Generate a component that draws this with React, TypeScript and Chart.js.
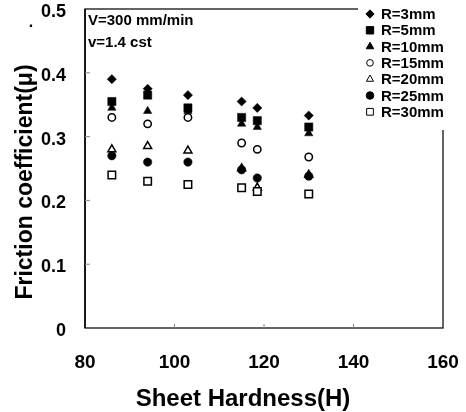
import React, { useEffect, useRef } from 'react';
import { Chart, registerables } from 'chart.js';
import { drawPoint } from 'chart.js/helpers';

Chart.register(...registerables);

// ---- data ----
const hardness = [86, 94, 103, 115, 118.5, 130];
const seriesLabels = ['R=3mm', 'R=5mm', 'R=10mm', 'R=15mm', 'R=20mm', 'R=25mm', 'R=30mm'];
const r3 = [0.39, 0.375, 0.365, 0.355, 0.345, 0.333];
const r5 = [0.355, 0.365, 0.345, 0.33, 0.325, 0.315];
const r10 = [0.345, 0.34, 0.34, 0.32, 0.315, 0.305];
const r15 = [0.33, 0.32, 0.33, 0.29, 0.28, 0.268];
const r20 = [0.28, 0.285, 0.278, 0.25, 0.22, 0.24];
const r25 = [0.27, 0.26, 0.26, 0.248, 0.235, 0.238];
const r30 = [0.24, 0.23, 0.225, 0.22, 0.214, 0.21];
const seriesValues = [r3, r5, r10, r15, r20, r25, r30];
const xTicks = [80, 100, 120, 140, 160];
const yTicks = [0, 0.1, 0.2, 0.3, 0.4, 0.5];
const yTickLabels = ['0', '0.1', '0.2', '0.3', '0.4', '0.5'];
const noteLines = ['V=300 mm/min', 'v=1.4 cst'];
const xTitle = 'Sheet Hardness(H)';
const yTitle = 'Friction coefficient(\u03bc)';

// ---- styles ----
const markerStyles = [
  { pointStyle: 'rectRot', radius: 4.6, fill: '#000', border: 0.5 },
  { pointStyle: 'rect', radius: 5.8, fill: '#000', border: 0.5 },
  { pointStyle: 'triangle', radius: 4.8, fill: '#000', border: 0.5 },
  { pointStyle: 'circle', radius: 3.7, fill: '#fff', border: 1.5 },
  { pointStyle: 'triangle', radius: 4.6, fill: '#fff', border: 1.5 },
  { pointStyle: 'circle', radius: 4.2, fill: '#000', border: 0.5 },
  { pointStyle: 'rect', radius: 5.3, fill: '#fff', border: 1.5 },
];
const FONT = "'Liberation Sans', Arial, sans-serif";

const decor = {
  id: 'decor',
  afterDraw(chart: any) {
    const { ctx, scales } = chart;
    const xs = scales.x;
    const ys = scales.y;
    const L = xs.getPixelForValue(80);
    const R = xs.getPixelForValue(160);
    const T = ys.getPixelForValue(0.5);
    const B = ys.getPixelForValue(0);
    ctx.save();
    // box
    ctx.strokeStyle = '#111';
    ctx.lineWidth = 1.3;
    ctx.strokeRect(L, T, R - L, B - T);
    ctx.lineWidth = 1.8;
    ctx.beginPath();
    ctx.moveTo(L, T);
    ctx.lineTo(L, B);
    ctx.stroke();
    // inward ticks
    ctx.strokeStyle = '#888';
    ctx.lineWidth = 1;
    yTicks.forEach((v) => {
      if (v === 0 || v === 0.5) return;
      const y = ys.getPixelForValue(v);
      ctx.beginPath();
      ctx.moveTo(L, y);
      ctx.lineTo(L + 5, y);
      ctx.stroke();
    });
    xTicks.forEach((v) => {
      if (v === 80 || v === 160) return;
      const x = xs.getPixelForValue(v);
      ctx.beginPath();
      ctx.moveTo(x, B);
      ctx.lineTo(x, B - 4);
      ctx.stroke();
    });
    // legend background
    ctx.fillStyle = '#fff';
    ctx.fillRect(358, 0, 466 - 358, 130);
    // legend
    chart.data.datasets.forEach((ds: any, i: number) => {
      const y = 14 + i * 16.3;
      const st = markerStyles[i];
      ctx.fillStyle = st.fill;
      ctx.strokeStyle = '#000';
      drawPoint(ctx, { pointStyle: st.pointStyle, rotation: 0, radius: st.radius * 0.9, borderWidth: st.border }, 370, y);
      ctx.fillStyle = '#000';
      ctx.font = `bold 15px ${FONT}`;
      ctx.textAlign = 'left';
      ctx.textBaseline = 'middle';
      ctx.fillText(ds.label, 381, y + 1);
    });
    // note
    ctx.fillStyle = '#000';
    ctx.font = `bold 15px ${FONT}`;
    ctx.textAlign = 'left';
    ctx.textBaseline = 'alphabetic';
    noteLines.forEach((t, i) => ctx.fillText(t, L + 3, 25 + i * 22));
    // axis titles
    ctx.font = `bold 24px ${FONT}`;
    ctx.textAlign = 'center';
    ctx.fillText(xTitle, 243, 406);
    ctx.save();
    ctx.translate(32, 182);
    ctx.rotate(-Math.PI / 2);
    ctx.font = `bold 23px ${FONT}`;
    ctx.fillText(yTitle, 0, 0);
    ctx.restore();
    ctx.font = `bold 16px ${FONT}`;
    ctx.fillText('.', 31, 27);
    ctx.restore();
  },
};

export default function App() {
  const ref = useRef<HTMLCanvasElement | null>(null);
  useEffect(() => {
    if (!ref.current) return;
    const datasets = seriesValues.map((vals, i) => ({
      label: seriesLabels[i],
      data: vals.map((v, j) => ({ x: hardness[j], y: v })),
      pointStyle: markerStyles[i].pointStyle,
      pointRadius: markerStyles[i].radius,
      backgroundColor: markerStyles[i].fill,
      borderColor: '#000',
      borderWidth: markerStyles[i].border,
      order: -i,
    }));
    const chart = new Chart(ref.current, {
      type: 'scatter',
      data: { datasets },
      options: {
        animation: false,
        responsive: false,
        maintainAspectRatio: false,
        devicePixelRatio: 1,
        layout: { autoPadding: false, padding: { top: 9, right: 23, left: 0, bottom: 0 } },
        plugins: { legend: { display: false }, tooltip: { enabled: false } },
        scales: {
          x: {
            type: 'linear',
            min: 80,
            max: 160,
            afterBuildTicks: (s: any) => { s.ticks = xTicks.map((v) => ({ value: v })); },
            afterFit: (s: any) => {
              s.height = 84;
              s.paddingLeft = 0; s.paddingRight = 0; s.paddingTop = 0; s.paddingBottom = 0;
            },
            grid: { display: false, drawTicks: false },
            border: { display: false },
            ticks: { color: '#000', padding: 23, maxRotation: 0, font: { family: FONT, size: 19, weight: 'bold' } },
          },
          y: {
            type: 'linear',
            min: 0,
            max: 0.5,
            afterBuildTicks: (s: any) => { s.ticks = yTicks.map((v) => ({ value: v })); },
            afterFit: (s: any) => {
              s.width = 85;
              s.paddingLeft = 0; s.paddingRight = 0; s.paddingTop = 0; s.paddingBottom = 0;
            },
            grid: { display: false, drawTicks: false },
            border: { display: false },
            ticks: {
              color: '#000',
              padding: 19,
              labelOffset: 3,
              font: { family: FONT, size: 18, weight: 'bold' },
              callback: (v: any) => yTickLabels[yTicks.findIndex((t) => Math.abs(t - v) < 1e-9)] ?? '',
            },
          },
        },
      },
      plugins: [decor],
    } as any);
    return () => chart.destroy();
  }, []);
  return (
    <div style={{ position: 'fixed', left: 0, top: 0, width: 466, height: 412, background: '#fff' }}>
      <canvas ref={ref} width={466} height={412} style={{ width: 466, height: 412, display: 'block' }} />
    </div>
  );
}
